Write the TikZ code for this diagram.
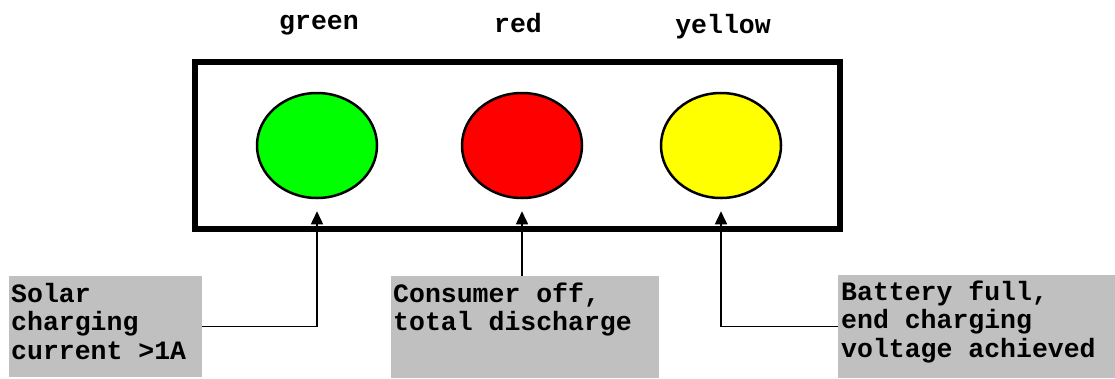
\documentclass[tikz,border=0pt]{standalone}
\usepackage{fontspec}
\setmonofont{Liberation Mono}
\usetikzlibrary{shapes.geometric,arrows.meta}
\definecolor{boxgrey}{HTML}{C0C0C0}
\definecolor{lampgreen}{HTML}{00FF00}
\definecolor{lampred}{HTML}{FF0000}
\definecolor{lampyellow}{HTML}{FFFF00}
\begin{document}
\begin{tikzpicture}[x=1pt,y=-1pt,
  txt/.style={font=\ttfamily\bfseries\fontsize{26.5}{28.5}\selectfont, inner sep=0pt, align=left},
  lamp/.style={ellipse, draw, line width=2.5pt, minimum width=120pt, minimum height=105pt, inner sep=0pt},
  note/.style={fill=boxgrey, inner sep=0pt, anchor=north west},
  pointer/.style={line width=1.5pt, -{Triangle[length=13pt,width=12pt]}}]
\useasboundingbox (0,0) rectangle (1115,378);

% housing of the indicator lamps
\node[draw, line width=5.5pt, minimum width=645pt, minimum height=167pt, inner sep=0pt] (panel) at (517.5,145.5) {};

% lamps
\node[lamp, fill=lampgreen]  (g) at (317,145.5) {};
\node[lamp, fill=lampred]    (r) at (522,145.5) {};
\node[lamp, fill=lampyellow] (y) at (721,145.5) {};

% colour names above the housing
\node[txt, anchor=base] (lg) at (319,29) {green};
\node[txt, anchor=base] (lr) at (518,32) {red};
\node[txt, anchor=base] (ly) at (723,33) {yellow};

% explanation boxes (text placed by the baseline of its last line)
\node[note, minimum width=193pt, minimum height=101pt] (b1) at (9,276) {};
\node[note, minimum width=268pt, minimum height=102pt] (b2) at (391,276) {};
\node[note, minimum width=277pt, minimum height=103pt] (b3) at (838,275) {};
\node[txt, anchor=base west] (t1) at (11,359) {Solar\\charging\\current >1A};
\node[txt, anchor=base west] (t2) at (393,330.5) {Consumer off,\\total discharge};
\node[txt, anchor=base west] (t3) at (841,357) {Battery full,\\end charging\\voltage achieved};

% pointers from the boxes to the lamps
\draw[pointer] (b1.east) -| ([yshift=-12pt]g.south);
\draw[pointer] (b2.north -| r.south) -- ([yshift=-12pt]r.south);
\draw[pointer] (b3.west) -| ([yshift=-12pt]y.south);
\end{tikzpicture}
\end{document}
